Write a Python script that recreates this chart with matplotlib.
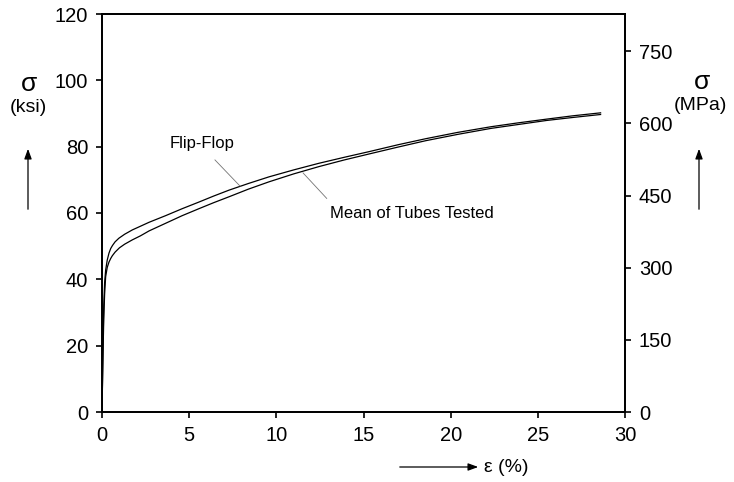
import matplotlib
matplotlib.use("Agg")
import matplotlib.pyplot as plt

plt.rcParams['font.family'] = ['Liberation Sans', 'DejaVu Sans']

# Stress-strain curves: strain (%) vs stress (ksi)
strain_flip = [0.0, 0.03, 0.06, 0.1, 0.15, 0.21, 0.3, 0.4, 0.5, 0.6, 0.75, 0.97, 1.3, 1.74,
               2.2, 2.7, 3.65, 4.6, 5.56, 6.4, 7.29, 8.4, 9.58, 11.0, 12.45, 13.9, 15.32,
               17.0, 18.57, 20.4, 22.3, 23.9, 25.5, 27.0, 28.6]
stress_flip = [0.0, 10.0, 20.0, 32.0, 39.0, 42.8, 45.8, 47.9, 49.3, 50.2, 51.3, 52.4, 53.6, 54.9,
               56.0, 57.2, 59.2, 61.3, 63.3, 65.1, 66.9, 68.9, 70.9, 73.0, 75.0, 76.8, 78.5,
               80.6, 82.4, 84.3, 86.0, 87.2, 88.3, 89.3, 90.2]

strain_mean = [0.0, 0.03, 0.06, 0.1, 0.15, 0.21, 0.3, 0.4, 0.5, 0.59, 0.75, 1.0, 1.3, 1.74,
               2.2, 2.7, 3.65, 4.6, 5.56, 6.4, 7.29, 8.4, 9.58, 11.0, 12.45, 13.9, 15.32,
               17.0, 18.57, 20.4, 22.3, 23.9, 25.5, 27.0, 28.6]
stress_mean = [0.0, 9.0, 18.0, 28.0, 35.5, 40.8, 43.6, 45.2, 46.3, 47.1, 48.2, 49.5, 50.6, 51.9,
               53.1, 54.6, 56.9, 59.2, 61.3, 63.1, 64.9, 67.2, 69.4, 71.8, 74.0, 76.0, 77.8,
               79.9, 81.8, 83.7, 85.5, 86.7, 87.9, 88.8, 89.7]

x_ticks = [0, 5, 10, 15, 20, 25, 30]
ksi_ticks = [0, 20, 40, 60, 80, 100, 120]
mpa_ticks = [0, 150, 300, 450, 600, 750]
KSI_TO_MPA = 6.894757

W, H = 734, 482
fig = plt.figure(figsize=(W / 100, H / 100), dpi=100)
ax = fig.add_axes([102 / W, 1 - 412 / H, (625 - 102) / W, (412 - 14) / H])

ax.plot(strain_flip, stress_flip, color='black', lw=0.9)
ax.plot(strain_mean, stress_mean, color='black', lw=0.9)

ax.set_xlim(0, 30)
ax.set_ylim(0, 120)
ax.set_xticks(x_ticks)
ax.set_yticks(ksi_ticks)
ax.tick_params(direction='out', length=4, width=1.2, labelsize=14.5, pad=6)
for s in ax.spines.values():
    s.set_linewidth(1.3)

ax2 = ax.twinx()
ax2.set_ylim(0, 120 * KSI_TO_MPA)
ax2.set_yticks(mpa_ticks)
ax2.tick_params(direction='out', length=4, width=1.2, labelsize=14.5, pad=6)
for s in ax2.spines.values():
    s.set_linewidth(1.3)

# Curve labels with leader lines
ax.text(3.9, 81.1, 'Flip-Flop', fontsize=12, va='center', ha='left')
ax.plot([6.48, 7.92], [76.0, 68.1], color='0.45', lw=0.6)
ax.text(13.08, 60.0, 'Mean of Tubes Tested', fontsize=12, va='center', ha='left')
ax.plot([11.53, 12.89], [72.1, 64.4], color='0.45', lw=0.6)

def fx(px):
    return px / W

def fy(py):
    return 1 - py / H

# Left axis title with arrow
fig.text(fx(29), fy(84), 'σ', fontsize=19, ha='center', va='center')
fig.text(fx(28), fy(108), '(ksi)', fontsize=14, ha='center', va='center')
fig.add_artist(matplotlib.patches.FancyArrowPatch(
    (fx(28), fy(212)), (fx(28), fy(146)), transform=fig.transFigure,
    arrowstyle='-|>,head_length=6,head_width=2.2', color='black', lw=0.9))

# Right axis title with arrow
fig.text(fx(702), fy(82), 'σ', fontsize=19, ha='center', va='center')
fig.text(fx(700), fy(105), '(MPa)', fontsize=14, ha='center', va='center')
fig.add_artist(matplotlib.patches.FancyArrowPatch(
    (fx(699), fy(212)), (fx(699), fy(146)), transform=fig.transFigure,
    arrowstyle='-|>,head_length=6,head_width=2.2', color='black', lw=0.9))

# Bottom axis title with arrow
fig.add_artist(matplotlib.patches.FancyArrowPatch(
    (fx(397), fy(467)), (fx(481), fy(467)), transform=fig.transFigure,
    arrowstyle='-|>,head_length=6,head_width=2.2', color='black', lw=0.9))
fig.text(fx(484), fy(467), 'ε (%)', fontsize=14, ha='left', va='center')

fig.savefig('out.png', dpi=100)
